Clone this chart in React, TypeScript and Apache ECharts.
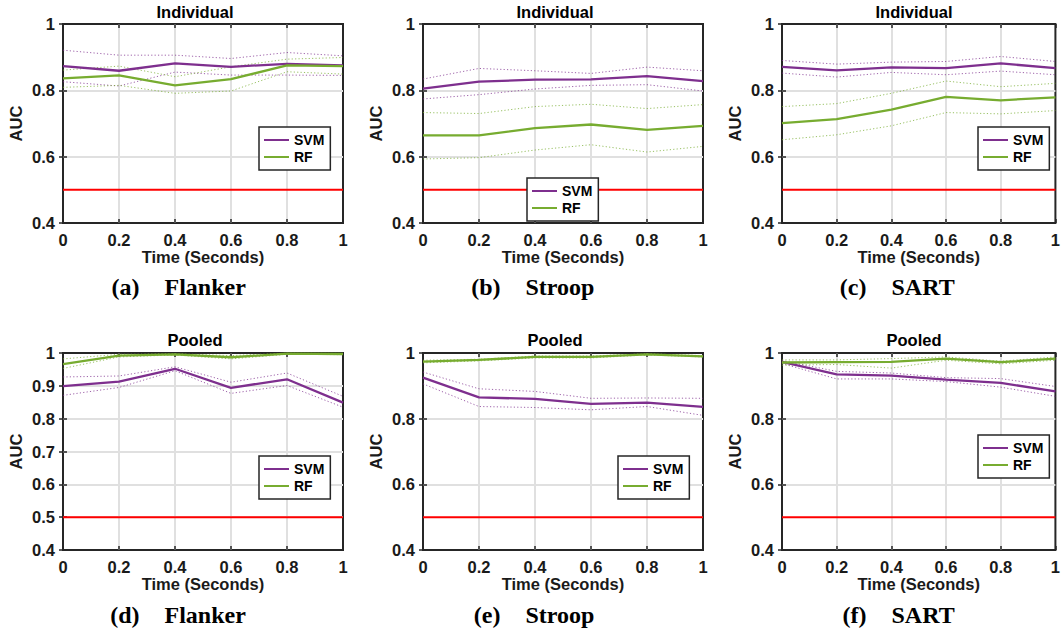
import React, { useEffect, useRef } from "react";
import * as echarts from "echarts";

// ---------- data ----------
const time = [0, 0.2, 0.4, 0.6, 0.8, 1];
const chanceLevel = 0.5;
const xTicks = ["0", "0.2", "0.4", "0.6", "0.8", "1"];

// (a) Flanker – Individual
const aSvm = [0.873, 0.859, 0.881, 0.871, 0.88, 0.875];
const aSvmHi = [0.921, 0.906, 0.906, 0.896, 0.914, 0.904];
const aSvmLo = [0.826, 0.813, 0.855, 0.846, 0.846, 0.845];
const aRf = [0.836, 0.845, 0.815, 0.834, 0.875, 0.873];
const aRfHi = [0.861, 0.873, 0.841, 0.871, 0.894, 0.899];
const aRfLo = [0.809, 0.815, 0.791, 0.798, 0.856, 0.849];

// (b) Stroop – Individual
const bSvm = [0.805, 0.826, 0.832, 0.833, 0.843, 0.828];
const bSvmHi = [0.834, 0.866, 0.859, 0.851, 0.87, 0.859];
const bSvmLo = [0.774, 0.787, 0.804, 0.815, 0.817, 0.798];
const bRf = [0.664, 0.664, 0.686, 0.697, 0.681, 0.693];
const bRfHi = [0.733, 0.73, 0.751, 0.758, 0.745, 0.757];
const bRfLo = [0.593, 0.597, 0.62, 0.636, 0.614, 0.631];

// (c) SART – Individual
const cSvm = [0.871, 0.86, 0.869, 0.867, 0.881, 0.867];
const cSvmHi = [0.89, 0.879, 0.885, 0.887, 0.902, 0.887];
const cSvmLo = [0.852, 0.84, 0.854, 0.847, 0.858, 0.847];
const cRf = [0.701, 0.713, 0.742, 0.78, 0.77, 0.779];
const cRfHi = [0.751, 0.76, 0.791, 0.828, 0.811, 0.821];
const cRfLo = [0.651, 0.666, 0.693, 0.733, 0.729, 0.739];

// (d) Flanker – Pooled
const dSvm = [0.899, 0.913, 0.952, 0.894, 0.92, 0.849];
const dSvmHi = [0.927, 0.93, 0.958, 0.911, 0.939, 0.868];
const dSvmLo = [0.871, 0.895, 0.946, 0.877, 0.901, 0.835];
const dRf = [0.966, 0.992, 0.996, 0.987, 0.998, 0.997];
const dRfHi = [0.982, 0.996, 0.998, 0.992, 1.0, 0.999];
const dRfLo = [0.953, 0.988, 0.994, 0.982, 0.996, 0.995];

// (e) Stroop – Pooled
const eSvm = [0.925, 0.865, 0.86, 0.845, 0.849, 0.836];
const eSvmHi = [0.942, 0.891, 0.883, 0.862, 0.863, 0.862];
const eSvmLo = [0.906, 0.837, 0.834, 0.827, 0.837, 0.81];
const eRf = [0.974, 0.979, 0.988, 0.988, 0.996, 0.99];
const eRfHi = [0.978, 0.981, 0.991, 0.991, 0.998, 0.992];
const eRfLo = [0.97, 0.976, 0.985, 0.985, 0.994, 0.988];

// (f) SART – Pooled
const fSvm = [0.973, 0.935, 0.931, 0.919, 0.909, 0.883];
const fSvmHi = [0.977, 0.944, 0.939, 0.925, 0.922, 0.898];
const fSvmLo = [0.968, 0.921, 0.921, 0.913, 0.896, 0.868];
const fRf = [0.971, 0.972, 0.973, 0.983, 0.972, 0.983];
const fRfHi = [0.979, 0.979, 0.983, 0.988, 0.975, 0.988];
const fRfLo = [0.963, 0.965, 0.954, 0.978, 0.967, 0.978];

const panelTitles = ["Individual", "Individual", "Individual", "Pooled", "Pooled", "Pooled"];
const panelLetters = ["(a)", "(b)", "(c)", "(d)", "(e)", "(f)"];
const panelTasks = ["Flanker", "Stroop", "SART", "Flanker", "Stroop", "SART"];
const yIntervals = [0.2, 0.2, 0.2, 0.1, 0.2, 0.2];
const seriesNames = ["SVM", "RF"];

const panelData = [
  { svm: aSvm, svmHi: aSvmHi, svmLo: aSvmLo, rf: aRf, rfHi: aRfHi, rfLo: aRfLo },
  { svm: bSvm, svmHi: bSvmHi, svmLo: bSvmLo, rf: bRf, rfHi: bRfHi, rfLo: bRfLo },
  { svm: cSvm, svmHi: cSvmHi, svmLo: cSvmLo, rf: cRf, rfHi: cRfHi, rfLo: cRfLo },
  { svm: dSvm, svmHi: dSvmHi, svmLo: dSvmLo, rf: dRf, rfHi: dRfHi, rfLo: dRfLo },
  { svm: eSvm, svmHi: eSvmHi, svmLo: eSvmLo, rf: eRf, rfHi: eRfHi, rfLo: eRfLo },
  { svm: fSvm, svmHi: fSvmHi, svmLo: fSvmLo, rf: fRf, rfHi: fRfHi, rfLo: fRfLo },
];

// ---------- layout ----------
const W = 1063;
const H = 631;
const colLefts = [63, 423, 782];
const plotW = 280;
const rowTops = [24, 353];
const rowHeights = [199, 197];
const titleYs = [12, 339.5];
const captionYs = [287, 615];
const captionGapOffsets = [89, 90, 97];
const legendPos = [
  [259, 127],
  [527, 178],
  [978, 127],
  [259, 456],
  [618, 456],
  [978, 435],
];

const PURPLE = "#7E2F8E";
const GREEN = "#77AC30";
const RED = "#FF0000";
const INK = "#1a1a1a";
const SANS = '"Liberation Sans", Arial, Helvetica, sans-serif';
const SERIF = '"Liberation Serif", "Times New Roman", serif';
const FS = 16.5;

function pairs(ys: number[]) {
  return time.map((t, i) => [t, ys[i]]);
}

function buildOption() {
  const grid: any[] = [];
  const xAxis: any[] = [];
  const yAxis: any[] = [];
  const series: any[] = [];
  const legend: any[] = [];
  const graphic: any[] = [];

  for (let i = 0; i < 6; i++) {
    const row = Math.floor(i / 3);
    const col = i % 3;
    const left = colLefts[col];
    const top = rowTops[row];
    const height = rowHeights[row];

    grid.push({
      left,
      top,
      width: plotW,
      height,
      show: true,
      borderColor: "#262626",
      borderWidth: 2,
      backgroundColor: "#ffffff",
      containLabel: false,
    });

    xAxis.push({
      gridIndex: i,
      type: "value",
      position: "bottom",
      min: 0,
      max: 1,
      interval: 0.2,
      name: "Time (Seconds)",
      nameLocation: "middle",
      nameGap: 25,
      nameTextStyle: { fontFamily: SANS, fontWeight: "bold", fontSize: FS, color: INK },
      axisLine: { show: false },
      axisTick: { show: true, inside: true, length: 4, lineStyle: { color: "#262626", width: 1.5 } },
      axisLabel: {
        show: true,
        margin: 8,
        fontFamily: SANS,
        fontWeight: "bold",
        fontSize: FS,
        color: INK,
        formatter: (v: number) => xTicks[Math.round(v * 5)] ?? String(v),
      },
      splitLine: {
        show: true,
        showMinLine: false,
        showMaxLine: false,
        lineStyle: { color: "#e0e0e0", width: 2 },
      },
    });
    xAxis.push({
      gridIndex: i,
      type: "value",
      position: "top",
      min: 0,
      max: 1,
      interval: 0.2,
      axisLine: { show: false },
      axisTick: { show: true, inside: true, length: 4, lineStyle: { color: "#262626", width: 1.5 } },
      axisLabel: { show: false },
      splitLine: { show: false },
    });

    const interval = yIntervals[i];
    yAxis.push({
      gridIndex: i,
      type: "value",
      position: "left",
      min: 0.4,
      max: 1,
      interval,
      name: "AUC",
      nameLocation: "middle",
      nameRotate: 90,
      nameGap: 39,
      nameTextStyle: { fontFamily: SANS, fontWeight: "bold", fontSize: FS, color: INK },
      axisLine: { show: false },
      axisTick: { show: true, inside: true, length: 4, lineStyle: { color: "#262626", width: 1.5 } },
      axisLabel: {
        show: true,
        margin: 8,
        fontFamily: SANS,
        fontWeight: "bold",
        fontSize: FS,
        color: INK,
        formatter: (v: number) => String(Math.round(v * 10) / 10),
      },
      splitLine: {
        show: true,
        showMinLine: false,
        showMaxLine: false,
        lineStyle: { color: "#e0e0e0", width: 2 },
      },
    });
    yAxis.push({
      gridIndex: i,
      type: "value",
      position: "right",
      min: 0.4,
      max: 1,
      interval,
      axisLine: { show: false },
      axisTick: { show: true, inside: true, length: 4, lineStyle: { color: "#262626", width: 1.5 } },
      axisLabel: { show: false },
      splitLine: { show: false },
    });

    const d = panelData[i];
    const xi = 2 * i;
    const yi = 2 * i;
    const dotted = (name: string, ys: number[], color: string) => ({
      name,
      type: "line",
      xAxisIndex: xi,
      yAxisIndex: yi,
      data: pairs(ys),
      showSymbol: false,
      symbol: "none",
      silent: true,
      z: 2,
      lineStyle: { color, width: 1, type: [1.2, 2.2], opacity: 0.75 },
      itemStyle: { color },
    });
    const solid = (name: string, ys: number[], color: string) => ({
      name,
      type: "line",
      xAxisIndex: xi,
      yAxisIndex: yi,
      data: pairs(ys),
      showSymbol: false,
      symbol: "none",
      silent: true,
      z: 3,
      lineStyle: { color, width: 2.3 },
      itemStyle: { color },
    });

    series.push(
      {
        name: "Chance",
        type: "line",
        xAxisIndex: xi,
        yAxisIndex: yi,
        data: [
          [time[0], chanceLevel],
          [time[time.length - 1], chanceLevel],
        ],
        showSymbol: false,
        symbol: "none",
        silent: true,
        z: 2,
        lineStyle: { color: RED, width: 2 },
        itemStyle: { color: RED },
      },
      dotted("SVM upper", d.svmHi, PURPLE),
      dotted("SVM lower", d.svmLo, PURPLE),
      dotted("RF upper", d.rfHi, GREEN),
      dotted("RF lower", d.rfLo, GREEN),
      solid(seriesNames[0], d.svm, PURPLE),
      solid(seriesNames[1], d.rf, GREEN)
    );

    legend.push({
      show: true,
      orient: "vertical",
      left: legendPos[i][0],
      top: legendPos[i][1],
      data: seriesNames,
      icon: "rect",
      itemWidth: 25,
      itemHeight: 2,
      itemGap: 1,
      padding: [5, 6, 5, 5],
      backgroundColor: "#ffffff",
      borderColor: "#262626",
      borderWidth: 1.5,
      borderRadius: 0,
      selectedMode: false,
      z: 10,
      textStyle: {
        fontFamily: SANS,
        fontWeight: "bold",
        fontSize: 14,
        color: "#000",
        lineHeight: 16,
        padding: [0, 0, 0, 0],
      },
    });

    graphic.push({
      type: "text",
      x: left + plotW / 2 - 8,
      y: titleYs[row],
      style: {
        text: panelTitles[i],
        align: "center",
        verticalAlign: "middle",
        font: `bold ${FS}px ${SANS}`,
        fill: "#000",
      },
    });
    const gapC = left + captionGapOffsets[col];
    graphic.push({
      type: "text",
      x: gapC - 12.5,
      y: captionYs[row],
      style: {
        text: panelLetters[i],
        align: "right",
        verticalAlign: "middle",
        font: `bold 24px ${SERIF}`,
        fill: "#000",
      },
    });
    graphic.push({
      type: "text",
      x: gapC + 12.5,
      y: captionYs[row],
      style: {
        text: panelTasks[i],
        align: "left",
        verticalAlign: "middle",
        font: `bold 24px ${SERIF}`,
        fill: "#000",
      },
    });
  }

  return {
    animation: false,
    backgroundColor: "#ffffff",
    grid,
    xAxis,
    yAxis,
    series,
    legend,
    graphic,
  };
}

export default function App() {
  const ref = useRef<HTMLDivElement | null>(null);
  useEffect(() => {
    if (!ref.current) return;
    const chart = echarts.init(ref.current, null, { renderer: "svg" });
    chart.setOption(buildOption() as any);
    return () => chart.dispose();
  }, []);
  return (
    <div
      ref={ref}
      style={{ position: "fixed", left: 0, top: 0, width: W, height: H, background: "#fff" }}
    />
  );
}
